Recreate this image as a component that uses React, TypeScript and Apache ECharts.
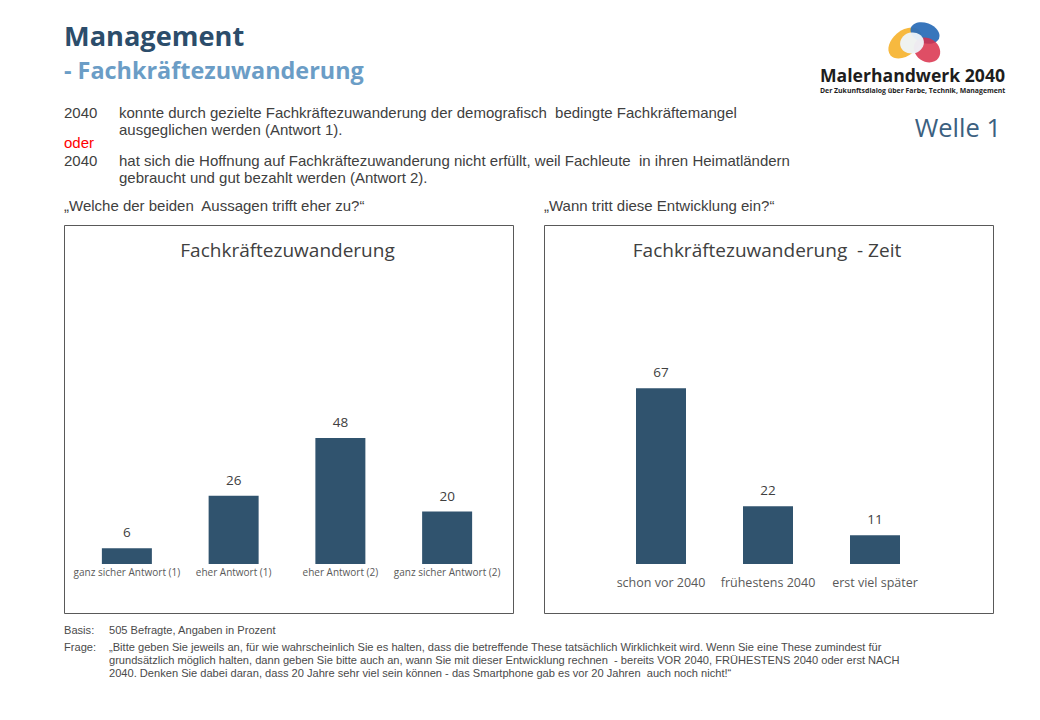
import React, { useEffect, useRef } from "react";
import * as echarts from "echarts";

const leftTitle = "Fachkräftezuwanderung";
const rightTitle = "Fachkräftezuwanderung  - Zeit";
const leftCategories = ["ganz sicher Antwort (1)", "eher Antwort (1)", "eher Antwort (2)", "ganz sicher Antwort (2)"];
const leftValues = [6, 26, 48, 20];
const rightCategories = ["schon vor 2040", "frühestens 2040", "erst viel später"];
const rightValues = [67, 22, 11];

const answer1 = [
  "konnte durch gezielte Fachkräftezuwanderung der demografisch  bedingte Fachkräftemangel",
  "ausgeglichen werden (Antwort 1).",
];
const answer2 = [
  "hat sich die Hoffnung auf Fachkräftezuwanderung nicht erfüllt, weil Fachleute  in ihren Heimatländern",
  "gebraucht und gut bezahlt werden (Antwort 2).",
];
const question1 = "„Welche der beiden  Aussagen trifft eher zu?“";
const question2 = "„Wann tritt diese Entwicklung ein?“";
const basisText = "505 Befragte, Angaben in Prozent";
const frageLines = [
  "„Bitte geben Sie jeweils an, für wie wahrscheinlich Sie es halten, dass die betreffende These tatsächlich Wirklichkeit wird. Wenn Sie eine These zumindest für",
  "grundsätzlich möglich halten, dann geben Sie bitte auch an, wann Sie mit dieser Entwicklung rechnen  - bereits VOR 2040, FRÜHESTENS 2040 oder erst NACH",
  "2040. Denken Sie dabei daran, dass 20 Jahre sehr viel sein können - das Smartphone gab es vor 20 Jahren  auch noch nicht!“",
];

const FONT = "'Open Sans', sans-serif";
const BODY_FONT = "'Liberation Sans', Arial, sans-serif";
const BAR = "#30536E";
const TXT = "#404040";

export default function App() {
  const ref = useRef<HTMLDivElement>(null);
  useEffect(() => {
    if (!ref.current) return;
    const chart = echarts.init(ref.current, undefined, { renderer: "svg" });

    const txt = (x: number, y: number, t: string, o: any = {}) => ({
      type: "text",
      x,
      y,
      silent: true,
      style: {
        text: t,
        fill: o.fill || TXT,
        fontSize: o.fontSize || 13,
        lineHeight: o.lineHeight || Math.round((o.fontSize || 13) * 1.2),
        fontFamily: o.fontFamily || FONT,
        fontWeight: o.fontWeight || "normal",
        textAlign: o.align || "left",
        textVerticalAlign: o.valign || "middle",
      },
    });

    // multi-line paragraph: y = centre of first line
    const para = (x: number, y: number, lines: string[], fontSize: number, lh: number, fill: string) =>
      txt(x, y - lh / 2, lines.join("\n"), { fontSize, lineHeight: lh, fill, valign: "top", fontFamily: BODY_FONT });

    const body = (x: number, y: number, t: string, fill = TXT) =>
      txt(x, y, t, { fontSize: 15, fill, fontFamily: BODY_FONT });
    const foot = (x: number, y: number, t: string) =>
      txt(x, y, t, { fontSize: 11.1, fill: "#4a4a4a", fontFamily: BODY_FONT });

    const ell = (cx: number, cy: number, rx: number, ry: number, rot: number, fill: string, op: number) => ({
      type: "group",
      x: cx,
      y: cy,
      rotation: (rot * Math.PI) / 180,
      silent: true,
      children: [{ type: "ellipse", shape: { cx: 0, cy: 0, rx, ry }, style: { fill, opacity: op } }],
    });

    const graphic: any[] = [
      txt(64, 35, "Management", { fontSize: 27.2, fontWeight: "bold", fill: "#2C4D6B" }),
      txt(64, 70, "- Fachkräftezuwanderung", { fontSize: 23.4, fontWeight: "bold", fill: "#6B9DC6" }),
      body(64, 112.5, "2040"),
      para(119, 112.5, answer1, 15, 17, TXT),
      body(64, 142, "oder", "#FF0000"),
      body(64, 160.5, "2040"),
      para(119, 160.5, answer2, 15, 17, TXT),
      body(64, 205, question1),
      body(544, 205, question2),
      txt(1001, 127, "Welle 1", { fontSize: 25.5, fill: "#3B6080", align: "right" }),
      foot(64, 630, "Basis:"),
      foot(109, 630, basisText),
      foot(64, 646.5, "Frage:"),
      para(109, 646.5, frageLines, 11.1, 13, "#4a4a4a"),
      // logo
      ell(905, 43, 19, 12.5, 40, "#F7B93F", 1),
      ell(925, 33, 15, 10, -20, "#2D6FB8", 0.95),
      ell(927, 50, 14, 11.5, -35, "#D92F4A", 0.85),
      ell(912, 43, 12, 10.5, 15, "#EEF4FA", 0.95),
      txt(820, 75, "Malerhandwerk 2040", { fontSize: 17.6, fontWeight: "bold", fill: "#1d1d1d" }),
      txt(820, 90, "Der Zukunftsdialog über Farbe, Technik, Management", { fontSize: 6.9, fontWeight: "bold", fill: "#1d1d1d" }),
      // boxes
      { type: "rect", shape: { x: 64.5, y: 225.5, width: 449, height: 388 }, style: { fill: "none", stroke: "#595959", lineWidth: 1 }, silent: true },
      { type: "rect", shape: { x: 544.5, y: 225.5, width: 449, height: 388 }, style: { fill: "none", stroke: "#595959", lineWidth: 1 }, silent: true },
      txt(287.5, 250, leftTitle, { fontSize: 19, align: "center", fill: TXT }),
      txt(767, 250, rightTitle, { fontSize: 19, align: "center", fill: TXT }),
    ];

    const axisCommon = {
      axisLine: { show: false },
      axisTick: { show: false },
    };

    chart.setOption({
      animation: false,
      backgroundColor: "#ffffff",
      grid: [
        { left: 73.5, width: 427, top: 301.5, height: 262.5 },
        { left: 607.5, width: 321, top: 301.5, height: 262.5 },
      ],
      xAxis: [
        {
          type: "category",
          gridIndex: 0,
          data: leftCategories,
          ...axisCommon,
          axisLabel: { interval: 0, fontSize: 10, color: "#595959", fontFamily: FONT, margin: 3 },
        },
        {
          type: "category",
          gridIndex: 1,
          data: rightCategories,
          ...axisCommon,
          axisLabel: { interval: 0, fontSize: 12.5, color: "#595959", fontFamily: FONT, margin: 12 },
        },
      ],
      yAxis: [
        { type: "value", gridIndex: 0, min: 0, max: 100, show: false },
        { type: "value", gridIndex: 1, min: 0, max: 100, show: false },
      ],
      series: [
        {
          type: "bar",
          xAxisIndex: 0,
          yAxisIndex: 0,
          data: leftValues,
          barWidth: 50,
          itemStyle: { color: BAR },
          label: { show: true, position: "top", distance: 9, fontSize: 13.5, color: TXT, fontFamily: FONT },
        },
        {
          type: "bar",
          xAxisIndex: 1,
          yAxisIndex: 1,
          data: rightValues,
          barWidth: 50,
          itemStyle: { color: BAR },
          label: { show: true, position: "top", distance: 9, fontSize: 13.5, color: TXT, fontFamily: FONT },
        },
      ],
      graphic,
    });

    return () => chart.dispose();
  }, []);

  return (
    <div
      ref={ref}
      style={{ position: "fixed", left: 0, top: 0, width: 1040, height: 720, background: "#fff" }}
    />
  );
}
